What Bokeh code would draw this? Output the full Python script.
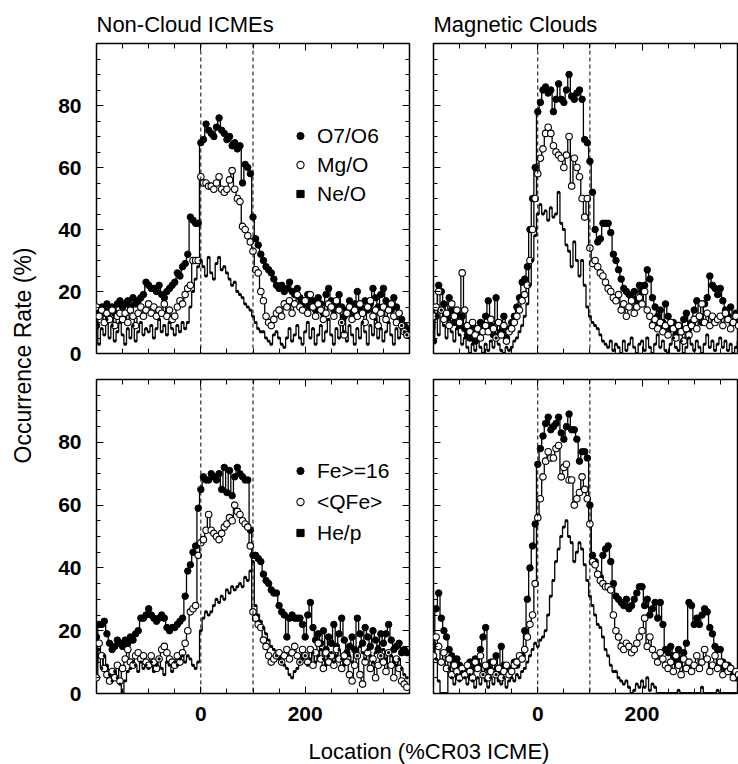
from bokeh.plotting import figure
from bokeh.models import Span, Label, Legend, LegendItem, FixedTicker, LinearAxis, Range1d
from bokeh.layouts import row, column
from bokeh.embed import file_html
from bokeh.resources import INLINE

# bin centres (% of ICME duration)
loc = list(range(-200, 400, 5))

# ---- Non-Cloud ICMEs, upper panel ----
nc_o7o6 = [9, 14, 15, 13, 16, 14, 15, 13, 16, 17,
           15, 16, 17, 15, 18, 16, 17, 18, 19, 23,
           22, 21, 21, 20, 22, 19, 18, 20, 21, 22,
           23, 26, 25, 28, 29, 32, 44, 43, 42, 42,
           68, 69, 74, 72, 71, 70, 73, 76, 72, 71,
           69, 70, 67, 68, 66, 67, 55, 61, 60, 58,
           44, 37, 35, 32, 30, 28, 27, 26, 24, 22,
           21, 22, 20, 21, 23, 20, 19, 21, 18, 17,
           16, 19, 15, 17, 14, 18, 16, 13, 19, 21,
           17, 14, 16, 19, 15, 12, 14, 17, 13, 16,
           20, 15, 13, 17, 14, 16, 21, 18, 15, 19,
           21, 17, 16, 14, 18, 15, 13, 11, 9, 8]
nc_mgo = [15, 12, 14, 10, 13, 11, 14, 9, 12, 13,
          11, 13, 10, 14, 12, 9, 13, 15, 12, 14,
          16, 13, 15, 12, 14, 13, 16, 12, 14, 11,
          12, 15, 17, 16, 19, 21, 22, 30, 30, 30,
          57, 55, 55, 54, 54, 53, 55, 57, 53, 52,
          53, 56, 59, 53, 50, 49, 41, 40, 38, 36,
          33, 27, 26, 20, 17, 12, 10, 9, 11, 13,
          14, 12, 16, 15, 17, 13, 16, 19, 15, 14,
          17, 13, 19, 15, 12, 16, 14, 11, 13, 16,
          15, 12, 17, 14, 10, 6, 13, 15, 11, 14,
          12, 16, 13, 10, 15, 17, 12, 14, 9, 13,
          15, 11, 14, 16, 12, 10, 13, 9, 7, 6]
nc_neo = [10, 3, 8, 6, 11, 5, 9, 4, 7, 10,
          6, 3, 8, 5, 9, 4, 7, 10, 6, 8,
          7, 9, 5, 8, 11, 7, 9, 6, 10, 8,
          6, 9, 7, 10, 8, 10, 15, 20, 24, 28,
          30, 28, 25, 31, 26, 24, 29, 31, 27, 28,
          26, 24, 22, 23, 20, 19, 18, 16, 15, 14,
          12, 10, 8, 7, 7, 5, 4, 3, 6, 7,
          5, 3, 2, 5, 8, 4, 6, 9, 5, 3,
          7, 10, 5, 8, 3, 6, 9, 4, 7, 11,
          6, 3, 8, 5, 10, 7, 4, 9, 6, 3,
          8, 5, 10, 7, 3, 9, 6, 11, 5, 8,
          4, 7, 10, 6, 3, 8, 5, 9, 7, 6]

# ---- Magnetic Clouds, upper panel ----
mc_o7o6 = [4, 12, 22, 20, 16, 12, 18, 14, 10, 13,
           9, 12, 8, 6, 5, 9, 4, 7, 10, 8,
           12, 17, 9, 6, 18, 10, 7, 12, 5, 8,
           10, 12, 15, 18, 23, 24, 28, 40, 50, 60,
           78, 81, 85, 86, 84, 85, 78, 82, 87, 82,
           81, 85, 90, 83, 82, 84, 85, 82, 69, 68,
           62, 52, 40, 36, 37, 42, 42, 42, 39, 32,
           30, 27, 24, 21, 20, 19, 18, 20, 17, 22,
           20, 22, 27, 24, 18, 15, 12, 14, 10, 16,
           12, 8, 10, 6, 9, 7, 11, 13, 8, 10,
           14, 17, 12, 10, 16, 18, 25, 22, 21, 19,
           21, 17, 14, 12, 15, 10, 13, 11, 9, 12]
mc_mgo = [12, 15, 20, 14, 11, 13, 9, 16, 12, 14,
          10, 26, 14, 9, 7, 10, 6, 8, 5, 7,
          9, 7, 11, 8, 5, 10, 6, 9, 4, 7,
          8, 10, 12, 14, 17, 19, 22, 30, 40, 50,
          58, 63, 66, 71, 73, 71, 67, 65, 64, 63,
          60, 64, 70, 54, 63, 60, 57, 50, 44, 50,
          34, 29, 30, 28, 26, 25, 23, 21, 20, 18,
          17, 19, 14, 16, 12, 15, 17, 13, 15, 18,
          16, 20, 14, 12, 9, 11, 8, 10, 7, 9,
          6, 10, 8, 5, 9, 7, 4, 8, 6, 9,
          11, 8, 12, 16, 10, 13, 9, 12, 10, 11,
          12, 9, 13, 11, 8, 10, 12, 9, 11, 10]
mc_neo = [8, 12, 6, 14, 9, 5, 11, 7, 4, 8,
          6, 3, 5, 2, 0, 3, 1, 4, 2, 0,
          3, 1, 4, 2, 5, 3, 1, 0, 2, 1,
          2, 4, 5, 7, 9, 12, 16, 22, 30, 38,
          45, 48, 45, 46, 43, 47, 44, 45, 52, 42,
          40, 35, 33, 28, 36, 30, 25, 30, 22, 15,
          12, 10, 9, 8, 6, 4, 3, 2, 4, 1,
          3, 2, 0, 4, 1, 3, 5, 2, 0, 3,
          4, 1, 5, 2, 0, 3, 6, 2, 4, 1,
          0, 3, 5, 2, 1, 4, 0, 2, 5, 3,
          1, 4, 2, 0, 3, 6, 2, 4, 1, 3,
          5, 2, 4, 1, 3, 0, 2, 4, 1, 3]

# ---- Non-Cloud ICMEs, lower panel ----
nc_fe16 = [18, 22, 22, 23, 19, 16, 14, 15, 17, 16,
           15, 17, 16, 18, 17, 19, 20, 24, 24, 25,
           27, 25, 24, 23, 24, 25, 24, 21, 20, 21,
           21, 22, 23, 24, 31, 39, 41, 45, 47, 59,
           65, 69, 68, 68, 70, 69, 68, 70, 65, 72,
           64, 71, 63, 69, 72, 70, 69, 68, 68, 52,
           44, 44, 43, 42, 38, 36, 35, 33, 32, 32,
           28, 26, 25, 18, 24, 25, 24, 24, 24, 22,
           18, 25, 29, 21, 17, 19, 16, 20, 14, 18,
           16, 22, 15, 19, 24, 17, 13, 15, 18, 14,
           24, 19, 16, 21, 18, 15, 20, 17, 14, 19,
           16, 19, 22, 17, 14, 15, 16, 13, 14, 13]
nc_qfe = [5, 16, 12, 8, 6, 4, 7, 5, 9, 4,
          8, 11, 14, 10, 9, 12, 13, 11, 12, 10,
          9, 12, 10, 8, 11, 14, 15, 13, 11, 10,
          9, 12, 10, 13, 16, 20, 26, 27, 28, 44,
          48, 49, 52, 57, 52, 51, 50, 49, 51, 53,
          54, 56, 55, 60, 58, 57, 55, 54, 53, 47,
          26, 24, 22, 21, 17, 15, 12, 10, 11, 12,
          13, 10, 12, 14, 11, 13, 15, 12, 10, 14,
          12, 10, 14, 9, 13, 16, 11, 8, 13, 10,
          12, 9, 14, 11, 8, 12, 10, 6, 4, 9,
          12, 6, 3, 10, 13, 8, 11, 5, 9, 12,
          10, 7, 13, 9, 5, 11, 8, 4, 3, 2]
nc_hep = [10, 14, 8, 12, 9, 6, 4, 7, 5, 3,
          0, 4, 7, 8, 10, 9, 7, 10, 8, 9,
          8, 10, 7, 9, 11, 8, 6, 10, 9, 7,
          10, 9, 11, 12, 10, 12, 11, 9, 8, 10,
          20, 24, 26, 25, 26, 28, 30, 29, 31, 30,
          33, 32, 34, 33, 34, 35, 34, 37, 36, 39,
          42, 28, 25, 23, 21, 19, 17, 15, 14, 12,
          11, 10, 9, 8, 6, 5, 7, 8, 10, 11,
          12, 9, 11, 13, 10, 12, 14, 11, 9, 12,
          13, 10, 12, 14, 11, 9, 13, 12, 10, 14,
          12, 15, 13, 11, 14, 12, 10, 13, 15, 12,
          14, 11, 13, 12, 10, 9, 11, 8, 6, 5]

# ---- Magnetic Clouds, lower panel ----
mc_fe16 = [15, 27, 32, 24, 20, 18, 14, 12, 10, 11,
           9, 7, 8, 6, 10, 8, 11, 9, 14, 18,
           21, 8, 10, 7, 12, 6, 15, 9, 8, 7,
           8, 10, 9, 11, 12, 20, 30, 40, 47, 54,
           73, 78, 82, 86, 88, 84, 85, 86, 88, 83,
           81, 85, 89, 84, 84, 81, 74, 77, 77, 75,
           60, 44, 42, 38, 37, 44, 46, 47, 42, 35,
           31, 30, 29, 28, 30, 27, 28, 30, 32, 34,
           34, 28, 30, 25, 27, 29, 24, 29, 22, 14,
           13, 15, 12, 10, 14, 11, 13, 16, 29, 28,
           22, 24, 22, 25, 27, 26, 21, 19, 15, 14,
           14, 10, 8, 9, 7, 6, 5, 6, 4, 5]
mc_qfe = [12, 18, 15, 10, 13, 8, 11, 6, 9, 7,
          5, 8, 6, 9, 7, 5, 10, 8, 12, 6,
          9, 5, 7, 10, 6, 8, 5, 7, 9, 6,
          7, 9, 10, 12, 11, 14, 18, 22, 25, 35,
          56, 62, 69, 74, 77, 75, 75, 78, 79, 69,
          72, 73, 68, 68, 60, 62, 64, 69, 65, 62,
          54, 42, 41, 38, 36, 35, 34, 34, 33, 25,
          20, 18, 15, 14, 16, 15, 13, 14, 16, 18,
          20, 24, 15, 18, 14, 12, 10, 13, 11, 9,
          8, 10, 7, 12, 9, 6, 11, 8, 10, 7,
          9, 12, 8, 10, 14, 11, 7, 9, 12, 8,
          10, 6, 9, 7, 8, 5, 7, 6, 5, 4]
mc_hep = [15, 11, 4, 0, 0, 0, 8, 5, 3, 6,
          4, 7, 5, 3, 6, 4, 2, 5, 3, 6,
          4, 2, 5, 3, 6, 4, 3, 5, 2, 4,
          5, 4, 6, 5, 7, 8, 10, 12, 14, 16,
          15, 17, 18, 20, 25, 31, 36, 42, 46, 50,
          53, 55, 50, 48, 42, 45, 48, 46, 41, 36,
          31, 28, 25, 22, 21, 18, 14, 12, 9, 7,
          7, 5, 4, 3, 4, 2, 0, 1, 3, 2,
          4, 2, 5, 1, 3, 2, 0, 0, 0, 0,
          0, 0, 0, 0, 1, 0, 0, 0, 0, 0,
          0, 0, 0, 2, 0, 0, 0, 0, 0, 1,
          0, 0, 0, 0, 0, 0, 0, 0, 0, 0]

titles = ["Non-Cloud ICMEs", "Magnetic Clouds"]
legend_top = ["O7/O6", "Mg/O", "Ne/O"]
legend_bottom = ["Fe>=16", "<QFe>", "He/p"]
y_label = "Occurrence Rate (%)"
x_label = "Location (%CR03 ICME)"
x_tick_labels = [0, 200]
y_tick_labels = [0, 20, 40, 60, 80]

FONT = "Liberation Sans"

x_all = list(range(-200, 401, 50))
y_all = list(range(0, 101, 5))
y_tenths = [0, 20, 40, 60, 80, 100]


def tick_set(majors, allticks):
    return FixedTicker(ticks=majors, minor_ticks=[v for v in allticks if v not in majors])


def style_axis(ax, ticker, major_len, minor_len, labels):
    ax.ticker = ticker
    ax.axis_line_color = None
    ax.major_tick_in = major_len
    ax.major_tick_out = 0
    ax.minor_tick_in = minor_len
    ax.minor_tick_out = 0
    ax.major_tick_line_color = "black"
    ax.minor_tick_line_color = "black"
    ax.major_tick_line_width = 1
    ax.minor_tick_line_width = 1
    if labels:
        ax.major_label_text_font = FONT
        ax.major_label_text_font_size = "21px"
        ax.major_label_text_font_style = "bold"
        ax.major_label_text_color = "black"
    else:
        ax.major_label_text_color = None
        ax.major_label_text_font_size = "1px"
        ax.major_label_standoff = 0


def panel(fw, fh, xend, series, mb, xlabels, ylabels, right_axis, title=None, legend=None):
    p = figure(frame_width=fw, frame_height=fh,
               x_range=Range1d(-200, xend), y_range=Range1d(0, 100),
               output_backend="svg", toolbar_location=None, tools="",
               min_border_left=mb[0], min_border_right=mb[1],
               min_border_top=mb[2], min_border_bottom=mb[3])
    p.grid.visible = False
    p.outline_line_color = "black"
    p.outline_line_width = 1.5
    p.background_fill_color = "white"
    p.border_fill_color = "white"

    if title:
        p.title.text = title
        p.title.align = "left"
        p.title.text_font = FONT
        p.title.text_font_size = "22px"
        p.title.text_font_style = "normal"
        p.title.text_color = "black"
        p.title.standoff = 13

    if xlabels:
        style_axis(p.xaxis[0], tick_set(x_tick_labels, x_all), 7, 5, True)
        p.xaxis[0].major_label_standoff = 13
    else:
        style_axis(p.xaxis[0], tick_set([-200, 0, 200, 400], x_all), 7, 5, False)
    if ylabels:
        style_axis(p.yaxis[0], tick_set(y_tick_labels, y_all), 7, 4, True)
        p.yaxis[0].major_label_standoff = 15
    else:
        style_axis(p.yaxis[0], tick_set(y_tenths, y_all), 7, 4, False)
    top = LinearAxis()
    style_axis(top, tick_set([-200, 0, 200, 400], x_all), 7, 5, False)
    p.add_layout(top, "above")
    if right_axis:
        rt = LinearAxis()
        style_axis(rt, tick_set(y_tenths, y_all), 7, 4, False)
        p.add_layout(rt, "right")

    for xv in (0, 100):
        p.add_layout(Span(location=xv, dimension="height", line_color="black",
                          line_dash="4 3", line_width=1))

    filled, opened, plain = series
    p.step(loc, plain, mode="center", line_color="black", line_width=1.3)
    p.step(loc, opened, mode="center", line_color="black", line_width=1.3)
    p.step(loc, filled, mode="center", line_color="black", line_width=1.3)
    r_f = p.scatter(loc, filled, marker="circle", size=6.5, fill_color="black", line_color="black")
    r_o = p.scatter(loc, opened, marker="circle", size=6.5, fill_color="white", line_color="black", line_width=1.1)
    r_p = p.scatter(loc, plain, marker="square", size=2, fill_color="black", line_color="black")

    if legend:
        names, loc_xy, spacing = legend
        lg = Legend(items=[LegendItem(label=names[0], renderers=[r_f]),
                           LegendItem(label=names[1], renderers=[r_o]),
                           LegendItem(label=names[2], renderers=[r_p])],
                    location=loc_xy, orientation="vertical",
                    glyph_width=18, glyph_height=25, label_height=25,
                    label_standoff=8, spacing=spacing, padding=0, margin=0,
                    border_line_color=None, background_fill_alpha=0,
                    label_text_font=FONT, label_text_font_size="21px",
                    label_text_color="black")
        p.add_layout(lg)
    return p


tl = panel(313, 310, 400, (nc_o7o6, nc_mgo, nc_neo), (56, 12, 43, 13), False, True, True,
           title=titles[0], legend=(legend_top, (195, 147), 4))
tr = panel(305, 310, 385, (mc_o7o6, mc_mgo, mc_neo), (12, 0, 43, 13), False, False, False,
           title=titles[1])
bl = panel(313, 314, 400, (nc_fe16, nc_qfe, nc_hep), (56, 12, 13, 40), True, True, True,
           legend=(legend_bottom, (195, 148), 6))
br = panel(305, 314, 385, (mc_fe16, mc_qfe, mc_hep), (12, 0, 13, 40), True, False, False)


def text_fig(w, h, lab):
    f = figure(width=w, height=h, x_range=Range1d(0, 1), y_range=Range1d(0, 1),
               x_axis_type=None, y_axis_type=None, output_backend="svg",
               toolbar_location=None, tools="", min_border=0)
    f.grid.visible = False
    f.outline_line_color = None
    f.background_fill_color = "white"
    f.border_fill_color = "white"
    f.add_layout(lab)
    return f


ylab = text_fig(40, 764, Label(x=22.5, y=409, x_units="screen", y_units="screen",
                               text=y_label, angle=1.5707963267948966,
                               text_align="center", text_baseline="middle",
                               text_font=FONT, text_font_size="23px", text_color="black"))
xlab = text_fig(698, 31, Label(x=388.5, y=1, x_units="screen", y_units="screen",
                               text=x_label, text_align="center", text_baseline="bottom",
                               text_font=FONT, text_font_size="22px", text_color="black"))

layout = row(ylab, column(row(tl, tr), row(bl, br), xlab))

open("out.html", "w").write(file_html(layout, INLINE))
